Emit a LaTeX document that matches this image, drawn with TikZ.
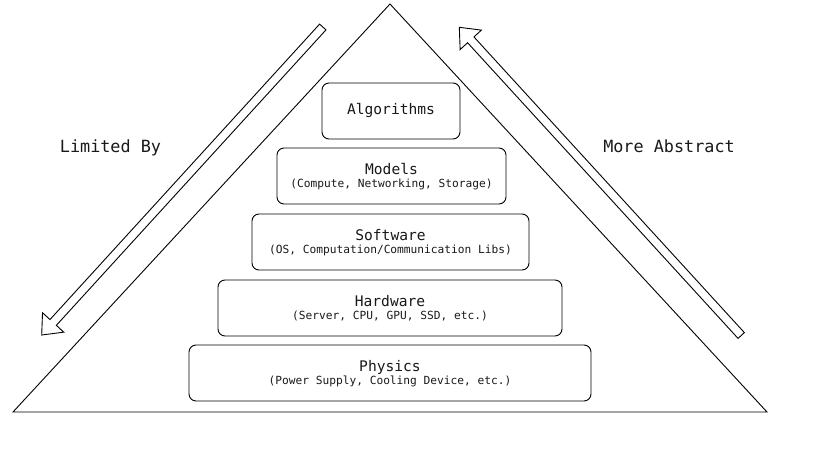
\documentclass[tikz,border=0pt]{standalone}
\usepackage{fontspec}
\newfontfamily\monof{DejaVu Sans Mono}
\usetikzlibrary{calc}
\tikzset{
  layer/.style={draw=black, line width=0.9pt, rounded corners=7pt, minimum height=56pt, inner sep=0pt},
  ttl/.style={anchor=base, font=\monof\fontsize{14.6}{16}\selectfont, inner sep=0pt, text=black!90},
  subt/.style={anchor=base, font=\monof\fontsize{11.2}{13}\selectfont, inner sep=0pt, text=black!90},
  side/.style={anchor=base, font=\monof\fontsize{16.8}{19}\selectfont, inner sep=0pt, text=black!90},
  outline/.style={draw=black, line width=0.9pt, line join=miter},
}
\begin{document}
\begin{tikzpicture}[x=1pt,y=-1pt]
\useasboundingbox[fill=white] (0,0) rectangle (816,457);
% pyramid outline
\coordinate (apex) at (390,4);
\coordinate (bl) at (13,412);
\coordinate (br) at (767,412);
\draw[outline] (apex) -- (bl) -- (br) -- cycle;
% layers
\node[layer, minimum width=138pt] (alg) at (391,111) {};
\node[ttl] (algT) at ($(alg.center)+(0,3.8)$) {Algorithms};
\node[layer, minimum width=229pt] (mod) at (391.5,176) {};
\node[ttl] (modT) at ($(mod.center)+(0,-1.5)$) {Models};
\node[subt] (modS) at ($(mod.center)+(0,12)$) {(Compute, Networking, Storage)};
\node[layer, minimum width=277pt] (sw) at (390.5,242) {};
\node[ttl] (swT) at ($(sw.center)+(0,-2)$) {Software};
\node[subt] (swS) at ($(sw.center)+(0,11.5)$) {(OS, Computation/Communication Libs)};
\node[layer, minimum width=344pt] (hw) at (390,308) {};
\node[ttl] (hwT) at ($(hw.center)+(0,-2)$) {Hardware};
\node[subt] (hwS) at ($(hw.center)+(0,11.5)$) {(Server, CPU, GPU, SSD, etc.)};
\node[layer, minimum width=402pt] (phy) at (390,373) {};
\node[ttl] (phyT) at ($(phy.center)+(0,-2)$) {Physics};
\node[subt] (phyS) at ($(phy.center)+(0,11.5)$) {(Power Supply, Cooling Device, etc.)};
% side labels
\node[side] (lim) at (110.5,153) {Limited By};
\node[side] (abs) at (669,153) {More Abstract};
% left hollow arrow (down-left)
\coordinate (lT) at (322.8,27);
\coordinate (lP) at (41.7,335);
\coordinate (lB) at ($(lP)!17pt!(lT)$);
\draw[outline] ($(lT)!4.3pt!90:(lP)$) -- ($(lB)!4.3pt!90:(lP)$) -- ($(lB)!14.4pt!90:(lP)$) -- (lP)
  -- ($(lB)!14.4pt!-90:(lP)$) -- ($(lB)!4.3pt!-90:(lP)$) -- ($(lT)!4.3pt!-90:(lP)$) -- cycle;
% right hollow arrow (up-left)
\coordinate (rT) at (741.2,335.5);
\coordinate (rP) at (459.3,27.3);
\coordinate (rB) at ($(rP)!17pt!(rT)$);
\draw[outline] ($(rT)!4.3pt!90:(rP)$) -- ($(rB)!4.3pt!90:(rP)$) -- ($(rB)!14.4pt!90:(rP)$) -- (rP)
  -- ($(rB)!14.4pt!-90:(rP)$) -- ($(rB)!4.3pt!-90:(rP)$) -- ($(rT)!4.3pt!-90:(rP)$) -- cycle;
\end{tikzpicture}
\end{document}
